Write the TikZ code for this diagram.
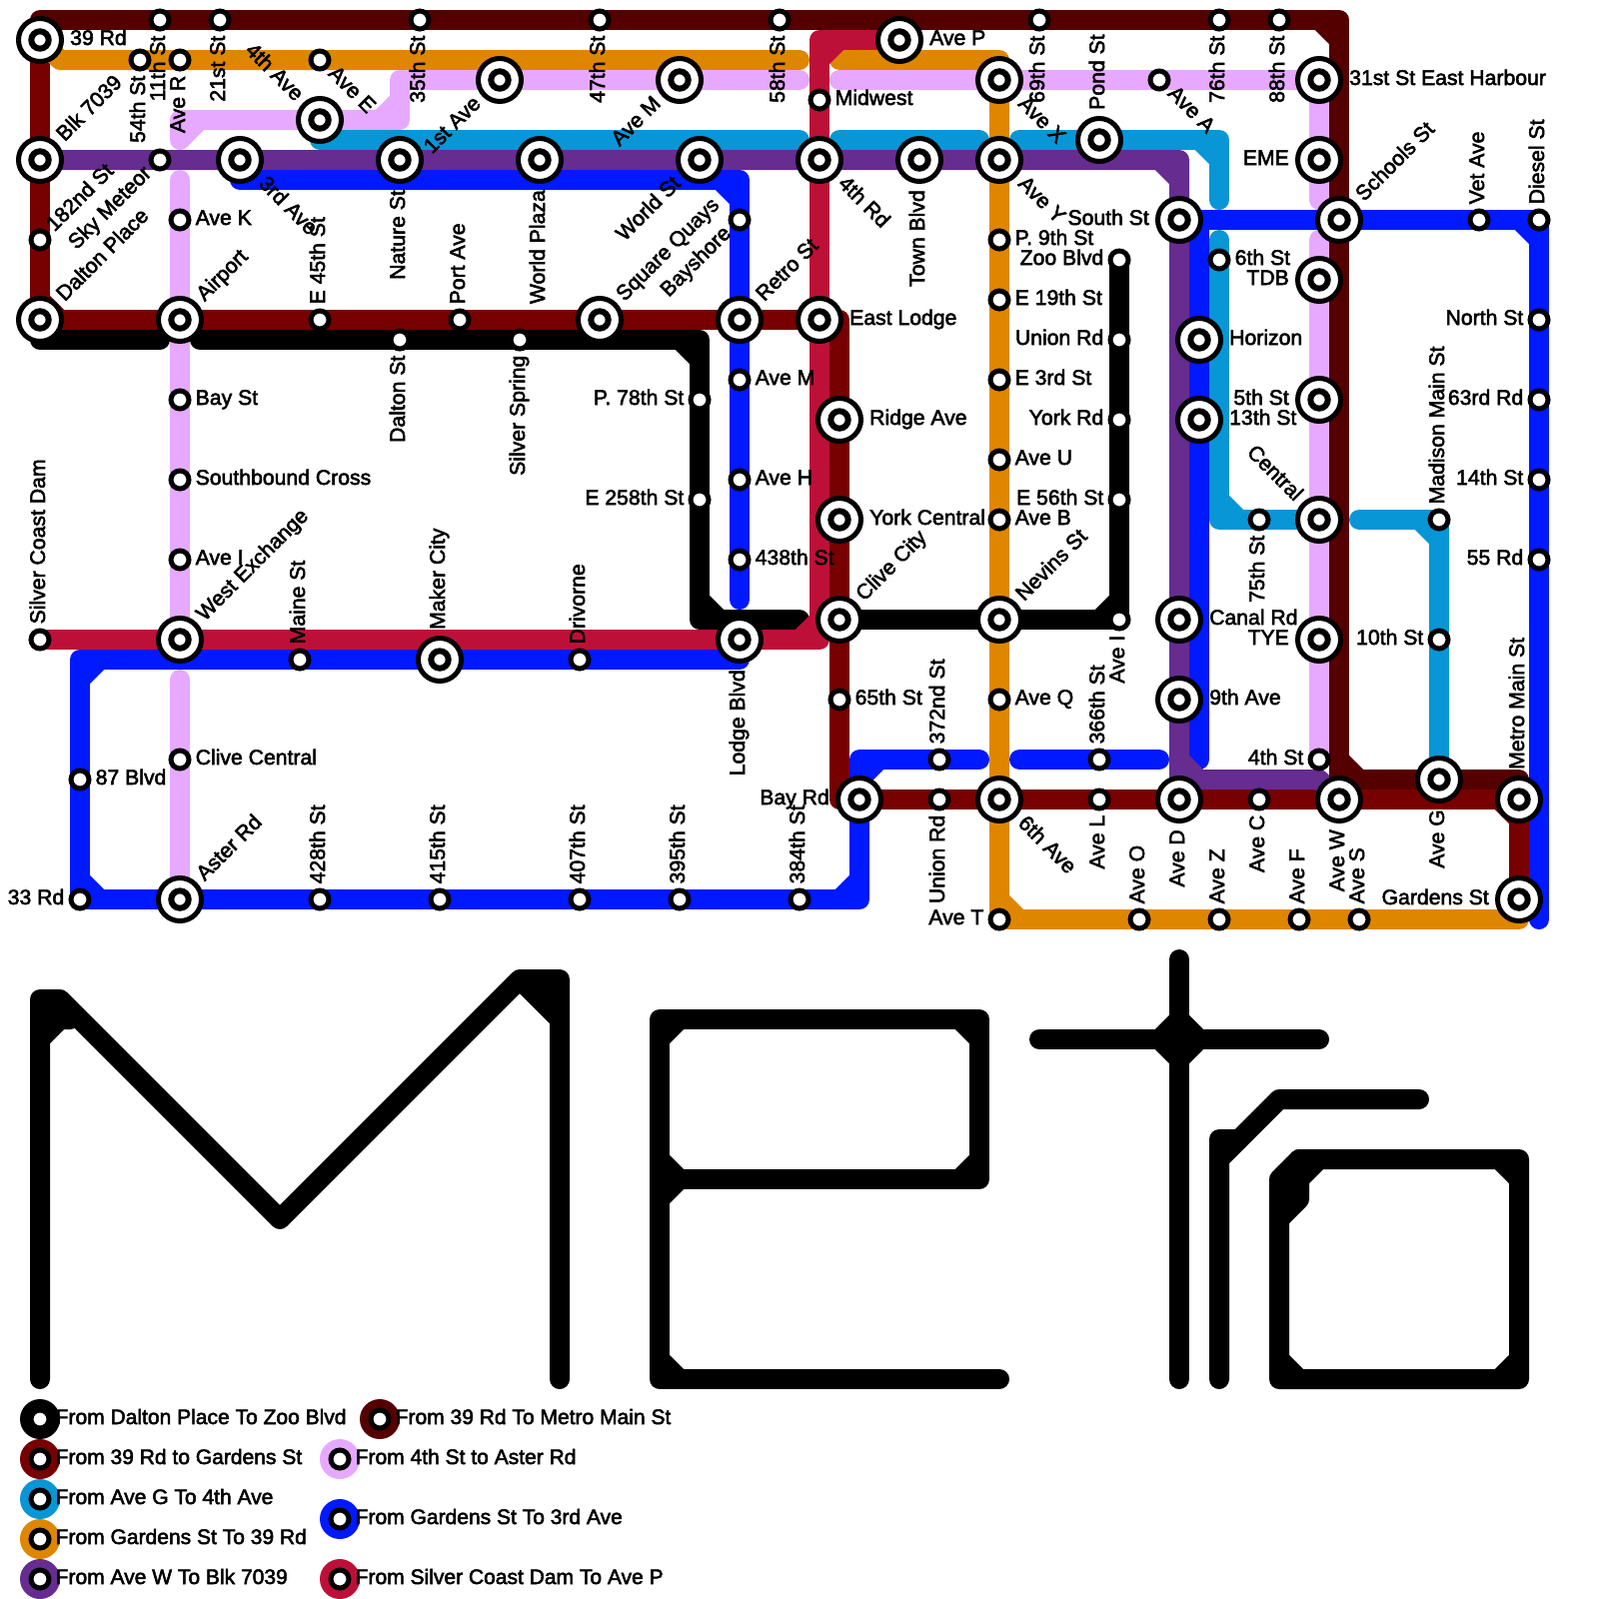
\documentclass[tikz,border=0pt]{standalone}
\usepackage{fontspec}
\setmainfont{Liberation Sans}[FakeBold=2.5]
\usetikzlibrary{calc, backgrounds}
\definecolor{linedark}{HTML}{550000}
\definecolor{linemaroon}{HTML}{770000}
\definecolor{linecyan}{HTML}{0896D7}
\definecolor{lineorange}{HTML}{DF8600}
\definecolor{linepurple}{HTML}{662C90}
\definecolor{linepink}{HTML}{E6A9FF}
\definecolor{lineblue}{HTML}{0019FF}
\definecolor{linecrimson}{HTML}{BD1038}

\newcommand{\bendcut}[2]{\foreach \a/\b/\c in {#2}
  \draw[#1, line width=2mm] ($(\b)!2mm!(\a)$) -- ($(\b)!2mm!(\c)$);}

\begin{document}
\begin{tikzpicture}[
  x=0.1mm, y=-0.1mm,
  font=\fontsize{6.03}{7}\selectfont,
  inner sep=0pt,
  metroline/.style={line width=2mm, line cap=round, line join=round},
  stopsmall/.style={circle, draw=black, fill=white, line width=0.5mm,
    minimum size=1.8mm, inner sep=0pt, outer sep=0pt},
  stopbig/.style={circle, draw=black, fill=white, line width=0.5mm,
    minimum size=4.3mm, inner sep=0pt, outer sep=0pt,
    path picture={\draw[line width=0.6mm] (path picture bounding box.center) circle (0.87mm);}},
  keydisc/.style={circle, minimum size=4mm, inner sep=0pt, outer sep=0pt},
  keytext/.style={font=\fontsize{5.98}{7}\selectfont},
  tr/.style={anchor=base west, xshift=\lo, yshift=-0.5mm},
  tl/.style={anchor=base east, xshift=-\lo, yshift=-0.5mm},
  tu/.style={rotate=90, anchor=base west, xshift=\lo, yshift=-0.5mm},
  td/.style={rotate=90, anchor=base east, xshift=-\lo, yshift=-0.5mm},
  tne/.style={rotate=45, anchor=base west, xshift=\lo, yshift=-0.5mm},
  tsw/.style={rotate=45, anchor=base east, xshift=-\lo, yshift=-0.5mm},
  tse/.style={rotate=-45, anchor=base west, xshift=\lo, yshift=-0.5mm},
  tnw/.style={rotate=-45, anchor=base east, xshift=-\lo, yshift=-0.5mm},
]
\useasboundingbox (0,0) rectangle (1600,1600);

% ---- interchanges ----
\def\lo{2.95mm}
\foreach \nm/\x/\y/\k/\txt in {
  rd39/40/40/tr/39 Rd, blk/40/160/tne/Blk 7039, dalton/40/320/tne/Dalton Place,
  airport/180/320/tne/Airport, westx/180/640/tne/West Exchange, aster/180/900/tne/Aster Rd,
  ave3rd/240/160/tse/3rd Ave, ave4th/320/120/tnw/4th Ave, nature/400/160/td/Nature St,
  ave1st/500/80/tsw/1st Ave, plaza/540/160/td/World Plaza, avemn/680/80/tsw/Ave M,
  worldst/700/160/tsw/World St, quays/600/320/tne/Square Quays, retro/740/320/tne/Retro St,
  rd4th/820/160/tse/4th Rd, lodgee/820/320/tr/East Lodge, avep/900/40/tr/Ave P,
  town/920/160/td/Town Blvd, avex/1000/80/tse/Ave X, avey/1000/160/tse/Ave Y,
  ridge/840/420/tr/Ridge Ave, york/840/520/tr/York Central, clive/840/620/tne/Clive City,
  nevins/1000/620/tne/Nevins St, maker/440/660/tu/Maker City, lodgeb/740/640/td/Lodge Blvd,
  bayrd/860/800/tl/Bay Rd, ave6th/1000/800/tse/6th Ave, pond/1100/140/tu/Pond St,
  south/1180/220/tl/South St, harbour/1320/80/tr/31st St East Harbour, eme/1320/160/tl/EME,
  schools/1340/220/tne/Schools St, tdb/1320/280/tl/TDB, horizon/1200/340/tr/Horizon,
  st5th/1320/400/tl/5th St, st13th/1200/420/tr/13th St, central/1320/520/tnw/Central,
  canal/1180/620/tr/Canal Rd, tye/1320/640/tl/TYE, ave9th/1180/700/tr/9th Ave,
  aved/1180/800/td/Ave D, avew/1340/800/td/Ave W, aveg/1440/780/td/Ave G,
  metromain/1520/800/tu/Metro Main St, gardens/1520/900/tl/Gardens St}
{
  \node[stopbig] (\nm) at (\x,\y) {};
  \node[\k] at (\x,\y) {\txt};
}

% ---- small stops ----
\def\lo{1.5mm}
\foreach \nm/\x/\y/\k/\txt in {
  st11th/160/20/td/11th St, st21st/220/20/td/21st St, st35th/420/20/td/35th St,
  st47th/600/20/td/47th St, st58th/780/20/td/58th St, st69th/1040/20/td/69th St,
  st76th/1220/20/td/76th St, st88th/1280/20/td/88th St, st54th/140/60/td/54th St,
  aver/180/60/td/Ave R, avee/320/60/tse/Ave E, meteor/160/160/tsw/Sky Meteor,
  st182nd/40/240/tne/182nd St, avek/180/220/tr/Ave K, e45th/320/320/tu/E 45th St,
  port/460/320/tu/Port Ave, daltonst/400/340/td/Dalton St, spring/520/340/td/Silver Spring,
  bayst/180/400/tr/Bay St, southb/180/480/tr/Southbound Cross, aveiw/180/560/tr/Ave I,
  silver/40/640/tu/Silver Coast Dam, maine/300/660/tu/Maine St, drivorne/580/660/tu/Drivorne,
  clivec/180/760/tr/Clive Central, blvd87/80/780/tr/87 Blvd, rd33/80/900/tl/33 Rd,
  st428th/320/900/tu/428th St, st415th/440/900/tu/415th St, st407th/580/900/tu/407th St,
  st395th/680/900/tu/395th St, st384th/800/900/tu/384th St, bayshore/740/220/tsw/Bayshore,
  midwest/820/100/tr/Midwest, avems/740/380/tr/Ave M, aveh/740/480/tr/Ave H,
  st438th/740/560/tr/438th St, p78th/700/400/tl/P. 78th St, e258th/700/500/tl/E 258th St,
  st65th/840/700/tr/65th St, st372nd/940/760/tu/372nd St, unionw/940/800/td/Union Rd,
  p9th/1000/240/tr/P. 9th St, e19th/1000/300/tr/E 19th St, e3rd/1000/380/tr/E 3rd St,
  aveu/1000/460/tr/Ave U, aveb/1000/520/tr/Ave B, aveq/1000/700/tr/Ave Q, avet/1000/920/tl/Ave T,
  zoo/1120/260/tl/Zoo Blvd, unione/1120/340/tl/Union Rd, yorkrd/1120/420/tl/York Rd,
  e56th/1120/500/tl/E 56th St, aveie/1120/620/td/Ave I, st366th/1100/760/tu/366th St,
  avel/1100/800/td/Ave L, avea/1160/80/tse/Ave A, st6th/1220/260/tr/6th St,
  st75th/1260/520/td/75th St, st4th/1320/760/tl/4th St, avec/1260/800/td/Ave C,
  aveo/1140/920/tu/Ave O, avez/1220/920/tu/Ave Z, avef/1300/920/tu/Ave F, aves/1360/920/tu/Ave S,
  vet/1480/220/tu/Vet Ave, diesel/1540/220/tu/Diesel St, north/1540/320/tl/North St,
  rd63/1540/400/tl/63rd Rd, st14th/1540/480/tl/14th St, rd55/1540/560/tl/55 Rd,
  madison/1440/520/tu/Madison Main St, st10th/1440/640/tl/10th St}
{
  \node[stopsmall] (\nm) at (\x,\y) {};
  \node[\k] at (\x,\y) {\txt};
}

% ---- bends and free ends of the lines ----
\foreach \nm/\x/\y in {
  dkA/40/20, dkB/1340/20, dkC/1340/780, dkD/1520/780,
  mrA/840/320, mrB/840/800,
  ktA/40/340, ktB/160/340, ktC/200/340, ktD/700/340, ktE/700/620, ktF/800/620,
  buA/1540/920, buB/1540/220, buC/1200/220, buD/1200/760, buE/1160/760, buF/1020/760,
  buG/980/760, buH/860/760, buI/860/900, buJ/80/660, buK/740/660,
  buL/740/600, buM/740/180, buN/240/180,
  cyA/1360/520, cyB/1220/520, cyC/1220/240, cyD/1220/200, cyE/1220/140, cyF/1020/140,
  cyG/980/140, cyH/840/140, cyI/800/140, cyJ/320/140,
  orA/1520/920, orB/1000/920, orC/1000/60, orD/840/60, orE/800/60, orF/60/60,
  puA/1320/780, puB/1180/780, puC/1180/160,
  piA/1320/240, piB/1320/200, piC/840/80, piD/800/80, piE/400/80, piF/400/120,
  piG/180/120, piH/180/140, piI/180/180, piJ/180/680,
  crA/820/640, crB/820/40}
  \coordinate (\nm) at (\x,\y);

\begin{scope}[on background layer]
% ---- black ----
\draw[metroline, black] (dalton.center) -- (ktA) -- (ktB);
\draw[metroline, black] (ktC) -- (ktD) -- (ktE) -- (ktF);
\draw[metroline, black] (clive.center) -- (aveie.center) -- (zoo.center);
\bendcut{black}{ktC/ktD/ktE, ktD/ktE/ktF, clive/aveie/zoo}
% ---- maroon ----
\draw[metroline, linemaroon] (rd39.center) -- (dalton.center) -- (mrA) -- (mrB)
  -- (metromain.center) -- (gardens.center);
\bendcut{linemaroon}{rd39/dalton/mrA, mrB/metromain/gardens}
% ---- blue ----
\draw[metroline, lineblue] (buA) -- (buB) -- (buC) -- (buD);
\draw[metroline, lineblue] (buE) -- (buF);
\draw[metroline, lineblue] (buG) -- (buH) -- (buI) -- (rd33.center) -- (buJ) -- (buK) -- (lodgeb.center);
\draw[metroline, lineblue] (buL) -- (buM) -- (buN) -- (ave3rd.center);
\bendcut{lineblue}{buA/buB/buC, buG/buH/buI, buH/buI/rd33, buI/rd33/buJ, rd33/buJ/buK, buL/buM/buN}
% ---- cyan ----
\draw[metroline, linecyan] (aveg.center) -- (madison.center) -- (cyA);
\draw[metroline, linecyan] (central.center) -- (cyB) -- (cyC);
\draw[metroline, linecyan] (cyD) -- (cyE) -- (cyF);
\draw[metroline, linecyan] (cyG) -- (cyH);
\draw[metroline, linecyan] (cyI) -- (cyJ) -- (ave4th.center);
\bendcut{linecyan}{aveg/madison/cyA, central/cyB/cyC, cyD/cyE/cyF}
% ---- orange ----
\draw[metroline, lineorange] (gardens.center) -- (orA) -- (orB) -- (orC) -- (orD);
\draw[metroline, lineorange] (orE) -- (orF) -- (rd39.center);
\bendcut{lineorange}{orA/orB/orC, orB/orC/orD}
% ---- purple ----
\draw[metroline, linepurple] (avew.center) -- (puA) -- (puB) -- (puC) -- (blk.center);
\bendcut{linepurple}{puA/puB/puC, puB/puC/blk}
% ---- dark ----
\draw[metroline, linedark] (rd39.center) -- (dkA) -- (dkB) -- (dkC) -- (dkD) -- (metromain.center);
\bendcut{linedark}{dkA/dkB/dkC, dkB/dkC/dkD}
% ---- pink ----
\draw[metroline, linepink] (st4th.center) -- (piA);
\draw[metroline, linepink] (piB) -- (harbour.center) -- (piC);
\draw[metroline, linepink] (piD) -- (piE) -- (piF) -- (piG) -- (piH);
\draw[metroline, linepink] (piI) -- (westx.center);
\draw[metroline, linepink] (piJ) -- (aster.center);
\bendcut{linepink}{piE/piF/piG, piF/piG/piH}
% ---- crimson ----
\draw[metroline, linecrimson] (silver.center) -- (crA) -- (crB) -- (avep.center);
\bendcut{linecrimson}{silver/crA/crB, crA/crB/avep}
\end{scope}

% ---- logo ----
\foreach \nm/\x/\y in {
  mA/40/1380, mB/40/1000, mC/60/1000, mD/280/1220, mE/520/980, mF/560/980, mG/560/1380,
  eA/660/1380, eB/660/1020, eC/980/1020, eD/980/1180, eE/660/1180, eF/1000/1380,
  tA/1180/960, tB/1180/1380, tC/1040/1040, tD/1320/1040, tE/1180/1040,
  rA/1220/1380, rB/1220/1140, rC/1240/1140, rD/1280/1100, rE/1420/1100, rF/1220/1160,
  oA/1280/1380, oB/1280/1180, oC/1300/1160, oD/1520/1160, oE/1520/1380, oF/1300/1200, oG/1280/1220}
  \coordinate (\nm) at (\x,\y);
\draw[metroline] (mA) -- (mB) -- (mC) -- (mD) -- (mE) -- (mF) -- (mG);
\draw[metroline] (40,1040) -- (60,1020) -- (70,1020);
\draw[metroline] (40,1020) -- (60,1020);
\draw[line width=2mm] (mE) -- (560,1020);
\fill (mE) -- (mF) -- (560,1020) -- cycle;
\draw[metroline] (eF) -- (eA) -- (eB) -- (eC) -- (eD) -- (eE);
\bendcut{black}{eA/eB/eC, eB/eC/eD, eC/eD/eE, eD/eE/eB, eD/eE/eA, eE/eA/eF}
\draw[metroline] (tA) -- (tB);
\draw[metroline] (tC) -- (tD);
\bendcut{black}{tC/tE/tA, tA/tE/tD, tD/tE/tB, tB/tE/tC}
\draw[metroline] (rA) -- (rB) -- (rC) -- (rD) -- (rE);
\draw[line width=2mm] (rF) -- (rC);
\draw[metroline] (oA) -- (oB) -- (oC) -- (oD) -- (oE) -- cycle;
\draw[metroline] (oC) -- (oF) -- (oG);
\bendcut{black}{oD/oC/oF, oC/oD/oE, oD/oE/oA, oE/oA/oB}

% ---- legend ----
\def\lo{1.5mm}
\foreach \nm/\x/\y/\col/\txt in {
  keyA/40/1420/black/From Dalton Place To Zoo Blvd,
  keyB/40/1460/linemaroon/From 39 Rd to Gardens St,
  keyC/40/1500/linecyan/From Ave G To 4th Ave,
  keyD/40/1540/lineorange/From Gardens St To 39 Rd,
  keyE/40/1580/linepurple/From Ave W To Blk 7039,
  keyF/380/1420/linedark/From 39 Rd To Metro Main St,
  keyG/340/1460/linepink/From 4th St to Aster Rd,
  keyH/340/1520/lineblue/From Gardens St To 3rd Ave,
  keyI/340/1580/linecrimson/From Silver Coast Dam To Ave P}
{
  \node[keydisc, fill=\col] (\nm) at (\x,\y) {};
  \node[stopsmall] at (\nm) {};
  \node[tr, keytext] at (\x,\y) {\txt};
}
\end{tikzpicture}
\end{document}
